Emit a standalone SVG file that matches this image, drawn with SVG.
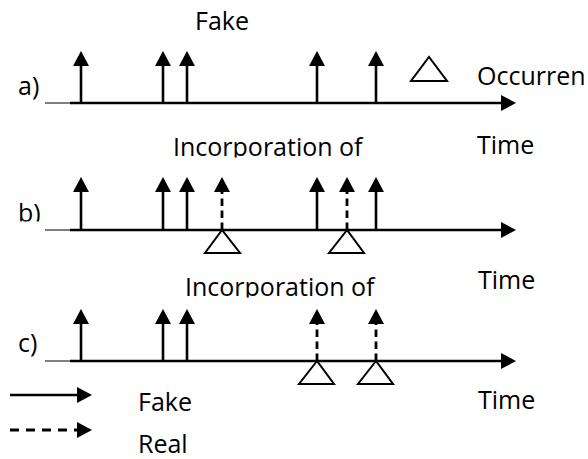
<svg xmlns="http://www.w3.org/2000/svg" width="588" height="459" viewBox="0 0 588 459">
<style>
text{font-family:"Open Sans","Liberation Sans",sans-serif;font-size:25px;fill:#000}
.axis{stroke:#000;stroke-width:2.6;fill:none}
.thin{stroke:#000;stroke-width:1;fill:none}
.fake{stroke:#000;stroke-width:2.6;fill:none}
.real{stroke:#000;stroke-width:2.8;fill:none;stroke-dasharray:7.5 4.5}
.tri{fill:#fff;stroke:#000;stroke-width:2}
</style>
<defs>
<marker id="ah" viewBox="0 0 15 16" refX="2" refY="8" markerWidth="15" markerHeight="16" markerUnits="userSpaceOnUse" orient="auto">
<path d="M0,0 L15,8 L0,16 Z" fill="#000"/>
</marker>
<clipPath id="clipB"><rect x="0" y="0" width="588" height="157.5"/></clipPath>
<clipPath id="clipC"><rect x="0" y="0" width="588" height="297.5"/></clipPath>
<clipPath id="clipBl"><rect x="0" y="0" width="588" height="221.5"/></clipPath>
</defs>

<g id="labels">
<text x="195" y="30">Fake</text>
<text x="477" y="85">Occurren</text>
<text x="477" y="154">Time</text>
<text x="173" y="156" clip-path="url(#clipB)">Incorporation of</text>
<text x="478" y="289">Time</text>
<text x="185" y="296" clip-path="url(#clipC)">Incorporation of</text>
<text x="478" y="409">Time</text>
<text x="18" y="95">a)</text>
<text x="18" y="222" clip-path="url(#clipBl)">b)</text>
<text x="18" y="352">c)</text>
</g>

<g id="row-a">
<line class="thin" x1="45" y1="103" x2="70" y2="103"/>
<line class="axis" x1="70" y1="103" x2="503" y2="103" marker-end="url(#ah)"/>
<polygon class="tri" points="411,81 447,81 429,57"/>
</g>

<g id="row-b">
<line class="thin" x1="45" y1="230" x2="70" y2="230"/>
<line class="axis" x1="70" y1="230" x2="503" y2="230" marker-end="url(#ah)"/>
</g>

<g id="row-c">
<line class="thin" x1="45" y1="361" x2="70" y2="361"/>
<line class="axis" x1="70" y1="361" x2="503" y2="361" marker-end="url(#ah)"/>
</g>

<g id="connectors">
<line class="fake" x1="81" y1="103" x2="81" y2="64" marker-end="url(#ah)"/>
<line class="fake" x1="163" y1="103" x2="163" y2="64" marker-end="url(#ah)"/>
<line class="fake" x1="187" y1="103" x2="187" y2="64" marker-end="url(#ah)"/>
<line class="fake" x1="317" y1="103" x2="317" y2="64" marker-end="url(#ah)"/>
<line class="fake" x1="376" y1="103" x2="376" y2="64" marker-end="url(#ah)"/>

<line class="fake" x1="81" y1="230" x2="81" y2="190" marker-end="url(#ah)"/>
<line class="fake" x1="163" y1="230" x2="163" y2="190" marker-end="url(#ah)"/>
<line class="fake" x1="187" y1="230" x2="187" y2="190" marker-end="url(#ah)"/>
<line class="real" x1="222" y1="230" x2="222" y2="190" marker-end="url(#ah)"/>
<line class="fake" x1="317" y1="230" x2="317" y2="190" marker-end="url(#ah)"/>
<line class="real" x1="347" y1="230" x2="347" y2="190" marker-end="url(#ah)"/>
<line class="fake" x1="376" y1="230" x2="376" y2="190" marker-end="url(#ah)"/>

<line class="fake" x1="81" y1="361" x2="81" y2="322" marker-end="url(#ah)"/>
<line class="fake" x1="163" y1="361" x2="163" y2="322" marker-end="url(#ah)"/>
<line class="fake" x1="187" y1="361" x2="187" y2="322" marker-end="url(#ah)"/>
<line class="real" x1="317" y1="361" x2="317" y2="322" marker-end="url(#ah)"/>
<line class="real" x1="376" y1="361" x2="376" y2="322" marker-end="url(#ah)"/>
</g>

<g id="events">
<polygon class="tri" points="222,230 205,253 240,253"/>
<polygon class="tri" points="347,230 329,253 364,253"/>
<polygon class="tri" points="317,361 299,384 334,384"/>
<polygon class="tri" points="376,361 358,384 393,384"/>
</g>

<g id="legend">
<line class="fake" x1="10" y1="395" x2="79" y2="395" marker-end="url(#ah)"/>
<text x="138" y="411">Fake</text>
<line class="real" x1="10" y1="430" x2="79" y2="430" style="stroke-dasharray:9 7" marker-end="url(#ah)"/>
<text x="138" y="453">Real</text>
</g>
</svg>
